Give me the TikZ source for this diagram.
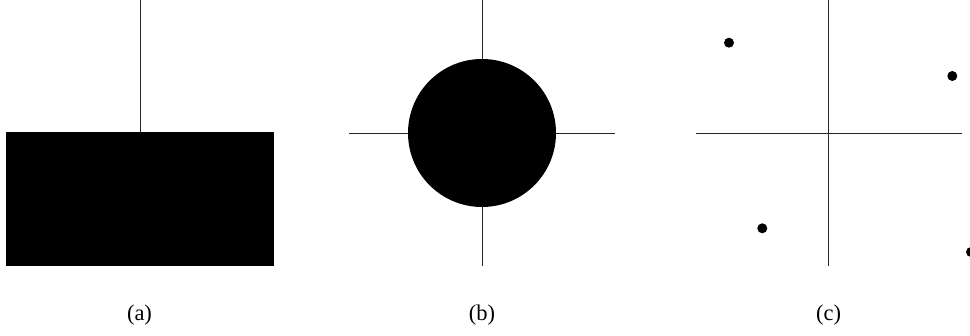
\documentclass[tikz,border=0pt]{standalone}
\usepackage{fontspec}
\setmainfont{Liberation Serif}
\begin{document}
\begin{tikzpicture}[x=1pt,y=-1pt,
  axis/.style={line width=0.9pt, black!85},
  blob/.style={fill=black, draw=none},
  dotmark/.style={circle, fill=black, inner sep=0pt, minimum size=10pt},
  caption/.style={font=\fontsize{22.5}{26}\selectfont, inner sep=0pt}]
\useasboundingbox (0,0) rectangle (970,336);
% (a)
\coordinate (atop) at (140,0);
\coordinate (abase) at (140,132.5);
\draw[axis] (atop) -- (abase);
\fill[blob] (6,132.5) rectangle (273.5,266.5);
\node[caption] (la) at (139.5,315) {(a)};
% (b)
\coordinate (bc) at (482,133);
\coordinate (btop) at (482,0);
\coordinate (bbot) at (482,266);
\coordinate (bl) at (349,133);
\coordinate (br) at (615,133);
\draw[axis] (btop) -- (bbot);
\draw[axis] (bl) -- (br);
\fill[blob] (bc) circle[radius=74];
\node[caption] (lb) at (482,315) {(b)};
% (c)
\coordinate (ctop) at (828.7,0);
\coordinate (cbot) at (828.7,266);
\coordinate (cl) at (696,133.3);
\coordinate (cr) at (962,133.3);
\draw[axis] (ctop) -- (cbot);
\draw[axis] (cl) -- (cr);
\node[dotmark] (d1) at (729,42.7) {};
\node[dotmark] (d2) at (952.3,76) {};
\node[dotmark] (d3) at (762.3,228.3) {};
\node[dotmark] (d4) at (971,252) {};
\node[caption] (lc) at (828.5,315) {(c)};
\end{tikzpicture}
\end{document}
